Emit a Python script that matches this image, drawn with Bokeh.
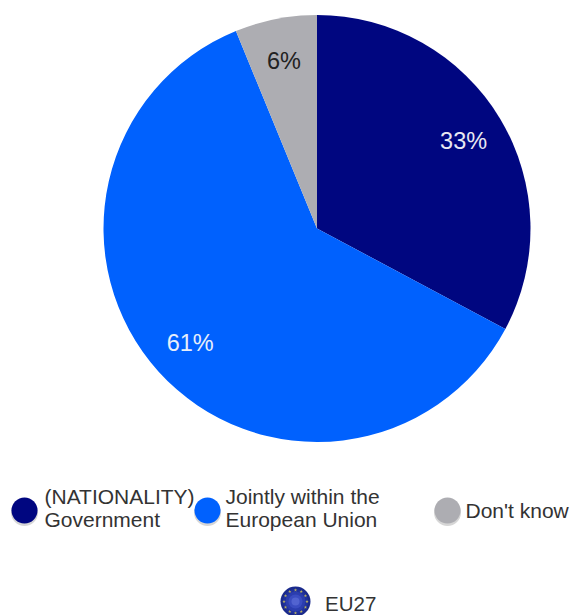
import math
from bokeh.plotting import figure
from bokeh.models import ColumnDataSource, Range1d
from bokeh.core.properties import value
from bokeh.embed import file_html
from bokeh.resources import INLINE

# data
categories = ["(NATIONALITY) Government", "Jointly within the European Union", "Don't know"]
values = [32.8, 61, 6.2]
labels = ["33%", "61%", "6%"]
legend_lines = [["(NATIONALITY)", "Government"], ["Jointly within the", "European Union"], ["Don't know"]]
group_label = "EU27"

# style and layout
colors = ["#000680", "#0061fe", "#adadb2"]
label_colors = ["#e8e8f2", "#e8eefa", "#222222"]
W, H = 570, 615
FONT = value("Liberation Sans")
CX, CY, R = 316.5, 228, 213.5
LABEL_R = 171
LEG_X = [24, 207, 447]
LEG_Y = 510
TXT_X = [44, 225, 465]
LINE_H = 23


def Y(y):
    return H - y


p = figure(width=W, height=H, x_range=Range1d(0, W), y_range=Range1d(0, H),
           output_backend="svg", toolbar_location=None, min_border=0,
           background_fill_color="white", border_fill_color="white", outline_line_color=None)
p.axis.visible = False
p.grid.visible = False

# pie: clockwise from 12 o'clock
total = sum(values)
starts, ends, lx, ly = [], [], [], []
acc = 0
for v in values:
    a0 = math.pi / 2 - 2 * math.pi * acc / total
    acc += v
    a1 = math.pi / 2 - 2 * math.pi * acc / total
    starts.append(a0)
    ends.append(a1)
    mid = (a0 + a1) / 2
    lx.append(CX + LABEL_R * math.cos(mid))
    ly.append(Y(CY) + LABEL_R * math.sin(mid))

src = ColumnDataSource(dict(start=starts, end=ends, color=colors, lx=lx, ly=ly,
                            label=labels, lc=label_colors))
p.wedge(x=CX, y=Y(CY), radius=R, start_angle="start", end_angle="end", direction="clock",
        fill_color="color", line_color=None, source=src)
p.text(x="lx", y="ly", text="label", text_color="lc", text_font=FONT, text_font_size="23.5px",
       text_align="center", text_baseline="middle", source=src)

# legend
for lgx, tx, col, lines in zip(LEG_X, TXT_X, colors, legend_lines):
    p.circle(x=[lgx], y=[Y(LEG_Y + 2)], radius=13.5, fill_color="#bbbbbb", fill_alpha=0.6, line_color=None)
    p.circle(x=[lgx], y=[Y(LEG_Y)], radius=13, fill_color=col, line_color=None)
    n = len(lines)
    shift = 3 if n == 2 else 0
    for i, t in enumerate(lines):
        yy = LEG_Y + (i - (n - 1) / 2) * LINE_H
        p.text(x=[tx], y=[Y(yy - shift)], text=[t], text_color="#333333", text_font=FONT,
               text_font_size="21px", text_align="left", text_baseline="middle")

# EU27 badge
BX, BY = 295, 601
for r, c in zip([15, 12.5, 10, 7, 4], ["#1a2a8c", "#20329c", "#2b3dae", "#3a4cc0", "#5263d0"]):
    p.circle(x=[BX], y=[Y(BY)], radius=r, fill_color=c, line_color=None)
sx = [BX + 11.5 * math.cos(2 * math.pi * k / 12) for k in range(12)]
sy = [Y(BY) + 11.5 * math.sin(2 * math.pi * k / 12) for k in range(12)]
p.scatter(x=sx, y=sy, marker="star", size=3.5, fill_color="#b8b060", line_color=None)
p.text(x=[324.5], y=[Y(603)], text=[group_label], text_color="#333333", text_font=FONT,
       text_font_size="20.5px", text_align="left", text_baseline="middle")

open("out.html", "w").write(file_html(p, INLINE))
